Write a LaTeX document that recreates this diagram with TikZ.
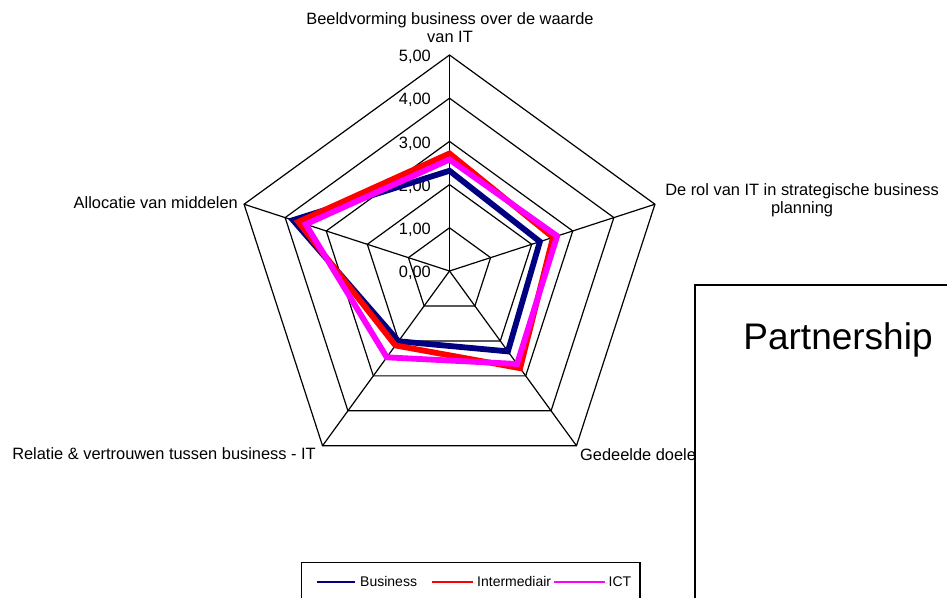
\documentclass[tikz,border=0pt]{standalone}
\usepackage{fontspec}
\setmainfont{Liberation Sans}
\usetikzlibrary{calc}
\definecolor{busnavy}{RGB}{0,0,128}
\definecolor{intred}{RGB}{255,0,0}
\definecolor{ictmag}{RGB}{255,0,255}
\begin{document}
\begin{tikzpicture}[x=1pt,y=-1pt,
  gridline/.style={black,line width=1.2pt},
  series/.style={line width=5.8pt,miter limit=10},
  axlabel/.style={inner sep=0pt,font=\fontsize{16.4}{18}\selectfont},
  lvllabel/.style={inner sep=0pt,anchor=east,font=\fontsize{16.4}{18}\selectfont},
  legtext/.style={inner sep=0pt,anchor=west,font=\fontsize{14}{16}\selectfont},
  legline/.style={line width=2pt}]
\useasboundingbox (0,0) rectangle (947,597);
\clip (0,0) rectangle (947,597);
\fill[white] (0,0) rectangle (947,597);
\coordinate (C) at (449.5,271);
\def\U{43.2}
% grid pentagons
\foreach \k in {1,...,5}{
  \draw[gridline] ($(C)+(-90:\k*\U)$) -- ($(C)+(-18:\k*\U)$) -- ($(C)+(54:\k*\U)$) -- ($(C)+(126:\k*\U)$) -- ($(C)+(198:\k*\U)$) -- cycle;
}
% axes
\foreach \a [count=\i] in {-90,-18,54,126,198}{
  \coordinate (V\i) at ($(C)+(\a:5*\U)$);
  \draw[gridline] (C) -- (V\i);
}
% level labels
\foreach \k in {0,...,5}{
  \node[lvllabel] (L\k) at (431,{271-\k*\U+2}) {\k,00};
}
% series
\draw[series,busnavy] ($(C)+(-90:2.32*\U)$) -- ($(C)+(-18:2.2*\U)$) -- ($(C)+(54:2.3*\U)$) -- ($(C)+(126:2.01*\U)$) -- ($(C)+(198:3.81*\U)$) -- cycle;
\draw[series,intred] ($(C)+(-90:2.72*\U)$) -- ($(C)+(-18:2.52*\U)$) -- ($(C)+(54:2.78*\U)$) -- ($(C)+(126:2.13*\U)$) -- ($(C)+(198:3.68*\U)$) -- cycle;
\draw[series,ictmag] ($(C)+(-90:2.58*\U)$) -- ($(C)+(-18:2.62*\U)$) -- ($(C)+(54:2.66*\U)$) -- ($(C)+(126:2.47*\U)$) -- ($(C)+(198:3.5*\U)$) -- cycle;
% axis labels
\node[axlabel,align=center] (Ttop) at (450,27.5) {Beeldvorming business over de waarde\\van IT};
\node[axlabel,align=center] (Tright) at (802,200) {De rol van IT in strategische business\\planning};
\node[axlabel,anchor=east] (Tleft) at (238,203) {Allocatie van middelen};
\node[axlabel,anchor=east] (Tbl) at (316,454) {Relatie \& vertrouwen tussen business - IT};
\node[axlabel,anchor=west] (Tbr) at (580,455) {Gedeelde doelen};
% Partnership box
\draw[fill=white,line width=1.3pt] (695,285) rectangle (960,620);
\node[inner sep=0pt,font=\fontsize{37}{40}\selectfont] (P) at (838,340) {Partnership};
% legend
\draw[fill=white,line width=1.3pt] (301.5,562.5) rectangle (640,620);
\coordinate (B1) at (317,581.5); \coordinate (B2) at (355,581.5);
\coordinate (R1) at (432,581.5); \coordinate (R2) at (473,581.5);
\coordinate (M1) at (554,581.5); \coordinate (M2) at (605,581.5);
\draw[legline,draw=busnavy] (B1) -- (B2);
\draw[legline,draw=intred] (R1) -- (R2);
\draw[legline,draw=ictmag] (M1) -- (M2);
\node[legtext] (LB) at (360,581.5) {Business};
\node[legtext] (LR) at (477,581.5) {Intermediair};
\node[legtext] (LM) at (608.5,581.5) {ICT};
\end{tikzpicture}
\end{document}
